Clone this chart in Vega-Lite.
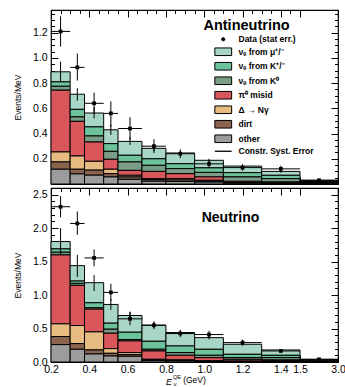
{
  "$schema": "https://vega.github.io/schema/vega-lite/v6.json",
  "padding": {"left": 12, "top": 8, "right": 8, "bottom": 0},
  "spacing": 0,
  "config": {
    "font": "Liberation Sans",
    "view": {"stroke": "black", "strokeWidth": 1.2},
    "axis": {"domain": false, "grid": false, "tickColor": "black", "labelColor": "black", "labelFontSize": 10.5, "titleFontSize": 8.5, "titleFontWeight": "normal", "titleColor": "black", "labelFlush": false, "labelOverlap": false, "tickCount": 100, "labelFont": "Liberation Sans", "titleFont": "Liberation Sans"}
  },
  "resolve": {"scale": {"color": "independent"}, "legend": {"color": "independent"}},
  "datasets": {
    "one": [{}],
    "comps": [
      {"c": "other", "o": 1}, {"c": "dirt", "o": 2}, {"c": "delta", "o": 3}, {"c": "pi0", "o": 4},
      {"c": "k0", "o": 5}, {"c": "kpm", "o": 6}, {"c": "mu", "o": 7}
    ],
    "anti": [
      {"lo":0.2,"hi":0.3,"xc":0.25,"mu":0.08,"kpm":0.035,"k0":0.031,"pi0":0.49,"delta":0.079,"dirt":0.058,"other":0.117,"d":1.21,"dlo":1.09,"dhi":1.33,"slo":0.81,"shi":0.97},
      {"lo":0.3,"hi":0.375,"xc":0.3375,"mu":0.12,"kpm":0.06,"k0":0.035,"pi0":0.275,"delta":0.105,"dirt":0.037,"other":0.08,"d":0.925,"dlo":0.82,"dhi":1.035,"slo":0.66,"shi":0.76},
      {"lo":0.375,"hi":0.475,"xc":0.425,"mu":0.11,"kpm":0.072,"k0":0.048,"pi0":0.153,"delta":0.07,"dirt":0.04,"other":0.07,"d":0.64,"dlo":0.555,"dhi":0.725,"slo":0.52,"shi":0.61},
      {"lo":0.475,"hi":0.55,"xc":0.5125,"mu":0.11,"kpm":0.061,"k0":0.063,"pi0":0.079,"delta":0.035,"dirt":0.026,"other":0.056,"d":0.56,"dlo":0.455,"dhi":0.655,"slo":0.39,"shi":0.47},
      {"lo":0.55,"hi":0.675,"xc":0.6125,"mu":0.11,"kpm":0.053,"k0":0.067,"pi0":0.039,"delta":0.013,"dirt":0.019,"other":0.037,"d":0.44,"dlo":0.35,"dhi":0.53,"slo":0.31,"shi":0.37},
      {"lo":0.675,"hi":0.8,"xc":0.7375,"mu":0.083,"kpm":0.052,"k0":0.048,"pi0":0.058,"delta":0.008,"dirt":0.012,"other":0.022,"d":0.30,"dlo":0.245,"dhi":0.355,"slo":0.26,"shi":0.31},
      {"lo":0.8,"hi":0.95,"xc":0.875,"mu":0.085,"kpm":0.039,"k0":0.04,"pi0":0.04,"delta":0.01,"dirt":0.012,"other":0.02,"d":0.24,"dlo":0.205,"dhi":0.275,"slo":0.23,"shi":0.26},
      {"lo":0.95,"hi":1.1,"xc":1.025,"mu":0.06,"kpm":0.036,"k0":0.036,"pi0":0.027,"delta":0.006,"dirt":0.008,"other":0.015,"d":0.16,"dlo":0.13,"dhi":0.19,"slo":0.175,"shi":0.2},
      {"lo":1.1,"hi":1.3,"xc":1.2,"mu":0.052,"kpm":0.034,"k0":0.035,"pi0":0.01,"delta":0.002,"dirt":0.003,"other":0.006,"d":0.13,"dlo":0.105,"dhi":0.155,"slo":0.13,"shi":0.155},
      {"lo":1.3,"hi":1.5,"xc":1.4,"mu":0.031,"kpm":0.027,"k0":0.026,"pi0":0.008,"delta":0.002,"dirt":0.002,"other":0.004,"d":0.12,"dlo":0.1,"dhi":0.145,"slo":0.09,"shi":0.11},
      {"lo":1.5,"hi":3.0,"xc":2.25,"mu":0.01,"kpm":0.006,"k0":0.006,"pi0":0.002,"delta":0.001,"dirt":0.001,"other":0.003,"d":0.03,"dlo":0.022,"dhi":0.038,"slo":0.025,"shi":0.033}
    ],
    "nu": [
      {"lo":0.2,"hi":0.3,"xc":0.25,"mu":0.11,"kpm":0.05,"k0":0.04,"pi0":1.03,"delta":0.19,"dirt":0.12,"other":0.26,"d":2.32,"dlo":2.16,"dhi":2.48,"slo":1.6,"shi":2.0},
      {"lo":0.3,"hi":0.375,"xc":0.3375,"mu":0.23,"kpm":0.035,"k0":0.03,"pi0":0.6,"delta":0.27,"dirt":0.085,"other":0.19,"d":2.07,"dlo":1.9,"dhi":2.25,"slo":1.27,"shi":1.6},
      {"lo":0.375,"hi":0.475,"xc":0.425,"mu":0.3,"kpm":0.075,"k0":0.02,"pi0":0.34,"delta":0.27,"dirt":0.06,"other":0.12,"d":1.555,"dlo":1.43,"dhi":1.68,"slo":1.06,"shi":1.3},
      {"lo":0.475,"hi":0.55,"xc":0.5125,"mu":0.28,"kpm":0.09,"k0":0.06,"pi0":0.23,"delta":0.07,"dirt":0.04,"other":0.09,"d":1.04,"dlo":0.91,"dhi":1.17,"slo":0.78,"shi":0.94},
      {"lo":0.55,"hi":0.675,"xc":0.6125,"mu":0.25,"kpm":0.11,"k0":0.02,"pi0":0.175,"delta":0.03,"dirt":0.025,"other":0.085,"d":0.645,"dlo":0.55,"dhi":0.75,"slo":0.64,"shi":0.75},
      {"lo":0.675,"hi":0.8,"xc":0.7375,"mu":0.24,"kpm":0.12,"k0":0.025,"pi0":0.125,"delta":0.01,"dirt":0.01,"other":0.02,"d":0.55,"dlo":0.49,"dhi":0.61,"slo":0.51,"shi":0.59},
      {"lo":0.8,"hi":0.95,"xc":0.875,"mu":0.2,"kpm":0.1,"k0":0.04,"pi0":0.07,"delta":0.007,"dirt":0.008,"other":0.015,"d":0.425,"dlo":0.37,"dhi":0.48,"slo":0.41,"shi":0.47},
      {"lo":0.95,"hi":1.1,"xc":1.025,"mu":0.174,"kpm":0.09,"k0":0.035,"pi0":0.05,"delta":0.003,"dirt":0.004,"other":0.008,"d":0.41,"dlo":0.355,"dhi":0.465,"slo":0.34,"shi":0.39},
      {"lo":1.1,"hi":1.3,"xc":1.2,"mu":0.15,"kpm":0.05,"k0":0.025,"pi0":0.028,"delta":0.002,"dirt":0.004,"other":0.006,"d":0.29,"dlo":0.245,"dhi":0.335,"slo":0.245,"shi":0.285},
      {"lo":1.3,"hi":1.5,"xc":1.4,"mu":0.08,"kpm":0.035,"k0":0.035,"pi0":0.015,"delta":0.003,"dirt":0.004,"other":0.008,"d":0.165,"dlo":0.145,"dhi":0.19,"slo":0.17,"shi":0.19},
      {"lo":1.5,"hi":3.0,"xc":2.25,"mu":0.015,"kpm":0.008,"k0":0.007,"pi0":0.004,"delta":0.001,"dirt":0.002,"other":0.003,"d":0.04,"dlo":0.03,"dhi":0.05,"slo":0.035,"shi":0.045}
    ]
  },
  "vconcat": [
    {
      "width": 287, "height": 174,
      "data": {"name": "anti"},
      "resolve": {"axis": {"x": "independent", "y": "independent"}},
      "layer": [
        {
          "layer": [
            {
              "transform": [
                {"fold": ["mu", "kpm", "k0", "pi0", "delta", "dirt", "other"], "as": ["c", "v"]},
                {"lookup": "c", "from": {"data": {"name": "comps"}, "key": "c", "fields": ["o"]}},
                {"stack": "v", "groupby": ["lo"], "sort": [{"field": "o", "order": "ascending"}], "as": ["y0", "y1"]}
              ],
              "mark": {"type": "rect", "stroke": "black", "strokeWidth": 1},
              "encoding": {
                "x": {"field": "lo", "type": "quantitative", "title": null,
                  "scale": {"domain": [0.2, 1.5, 3.0], "range": [0, 249, 287]},
                  "axis": {"labels": false, "ticks": false, "tickCount": 100, "values": [0.2,0.4,0.6,0.8,1.0,1.2,1.4,1.5]}},
                "x2": {"field": "hi"},
                "y": {"field": "y0", "type": "quantitative", "title": "Events/MeV",
                  "scale": {"domain": [0, 1.38], "nice": false},
                  "axis": {"values": [0.2,0.4,0.6,0.8,1.0,1.2], "tickCount": 100, "format": ".1f", "ticks": false, "labelPadding": 4, "titlePadding": 10, "labelOverlap": false}},
                "y2": {"field": "y1"},
                "color": {"field": "c", "type": "nominal",
                  "scale": {"domain": ["data","mu","kpm","k0","pi0","delta","dirt","other","syst"], "range": ["#000000","#a9d7c7","#6cc29a","#7a9d87","#d9575b","#e8bb80","#8b6450","#9c9c9c","#000000"]},
                  "legend": {"orient": "none", "legendX": 168, "legendY": 25, "title": null,
                    "symbolSize": 64, "symbolType": "M-2.1,-0.95H2.1V0.95H-2.1Z", "symbolStrokeColor": "black", "symbolStrokeWidth": 1, "symbolOpacity": 1,
                    "labelFont": "Liberation Sans", "labelFontWeight": "bold", "labelFontSize": 8.5, "labelColor": "black", "labelOffset": 11, "rowPadding": 1.5,
                    "labelExpr": "datum.value==='data' ? 'Data (stat err.)' : datum.value==='mu' ? 'νₑ from μ⁺/⁻' : datum.value==='kpm' ? 'νₑ from K⁺/⁻' : datum.value==='k0' ? 'νₑ from K⁰' : datum.value==='pi0' ? 'π⁰ misid' : datum.value==='delta' ? 'Δ → Nγ' : datum.value==='syst' ? 'Constr. Syst. Error' : datum.value",
                    "encode": {"symbols": {"update": {
                      "shape": {"signal": "datum.value==='data' ? 'circle' : datum.value==='syst' ? 'M-2.1,0H2.1' : 'M-2.1,-0.95H2.1V0.95H-2.1Z'"},
                      "size": {"signal": "datum.value==='data' ? 10 : 64"},
                      "strokeWidth": {"signal": "datum.value==='syst' ? 1.3 : 1"}
                    }}}}}
              }
            },
            {"mark": {"type": "rule", "color": "black", "strokeWidth": 1},
             "encoding": {"x": {"field": "xc", "type": "quantitative", "title": null}, "y": {"field": "slo", "type": "quantitative", "title": "Events/MeV"}, "y2": {"field": "shi"}}},
            {"mark": {"type": "rule", "color": "black", "strokeWidth": 1},
             "encoding": {"x": {"field": "lo", "type": "quantitative", "title": null}, "x2": {"field": "hi"}, "y": {"field": "d", "type": "quantitative", "title": "Events/MeV"}}},
            {"mark": {"type": "rule", "color": "black", "strokeWidth": 1},
             "encoding": {"x": {"field": "xc", "type": "quantitative", "title": null}, "y": {"field": "dlo", "type": "quantitative", "title": "Events/MeV"}, "y2": {"field": "dhi"}}},
            {"mark": {"type": "square", "filled": true, "color": "black", "size": 14, "opacity": 1},
             "encoding": {"x": {"field": "xc", "type": "quantitative", "title": null}, "y": {"field": "d", "type": "quantitative", "title": "Events/MeV"}}},
            {"data": {"name": "one"},
             "mark": {"type": "text", "text": "Antineutrino", "font": "Liberation Sans", "fontWeight": "bold", "fontSize": 14.5, "color": "black", "align": "center", "baseline": "middle"},
             "encoding": {"x": {"datum": 1.221, "type": "quantitative"}, "y": {"datum": 1.254, "type": "quantitative"}}}
          ]
        },
        {
          "data": {"name": "one"},
          "mark": {"type": "rule", "opacity": 0},
          "encoding": {
            "x": {"datum": 0.2, "type": "quantitative",
              "axis": {"orient": "bottom", "labels": false, "title": null, "tickCount": 100, "values": [0.2,0.25,0.3,0.35,0.4,0.45,0.5,0.55,0.6,0.65,0.7,0.75,0.8,0.85,0.9,0.95,1.0,1.05,1.1,1.15,1.2,1.25,1.3,1.35,1.4,1.45,1.5,3.0],
                "tickSize": {"condition": {"test": "round(datum.value*100)%20===0 || datum.value===1.5", "value": -7}, "value": -3.5}}},
            "y": {"datum": 0, "type": "quantitative",
              "axis": {"orient": "left", "labels": false, "title": null, "tickCount": 100, "values": [0,0.05,0.1,0.15,0.2,0.25,0.3,0.35,0.4,0.45,0.5,0.55,0.6,0.65,0.7,0.75,0.8,0.85,0.9,0.95,1.0,1.05,1.1,1.15,1.2,1.25,1.3,1.35],
                "tickSize": {"condition": {"test": "round(datum.value*100)%20===0", "value": -7}, "value": -3.5}}}
          }
        },
        {
          "data": {"name": "one"},
          "mark": {"type": "rule", "opacity": 0},
          "encoding": {
            "x": {"datum": 0.2, "type": "quantitative",
              "axis": {"orient": "top", "labels": false, "title": null, "tickCount": 100, "values": [0.2,0.25,0.3,0.35,0.4,0.45,0.5,0.55,0.6,0.65,0.7,0.75,0.8,0.85,0.9,0.95,1.0,1.05,1.1,1.15,1.2,1.25,1.3,1.35,1.4,1.45,1.5,3.0],
                "tickSize": {"condition": {"test": "round(datum.value*100)%20===0 || datum.value===1.5", "value": -7}, "value": -3.5}}},
            "y": {"datum": 0, "type": "quantitative",
              "axis": {"orient": "right", "labels": false, "title": null, "tickCount": 100, "values": [0,0.05,0.1,0.15,0.2,0.25,0.3,0.35,0.4,0.45,0.5,0.55,0.6,0.65,0.7,0.75,0.8,0.85,0.9,0.95,1.0,1.05,1.1,1.15,1.2,1.25,1.3,1.35],
                "tickSize": {"condition": {"test": "round(datum.value*100)%20===0", "value": -7}, "value": -3.5}}}
          }
        }
      ]
    },
    {
      "width": 287, "height": 174,
      "data": {"name": "nu"},
      "resolve": {"axis": {"x": "independent", "y": "independent"}},
      "layer": [
        {
          "layer": [
            {
              "transform": [
                {"fold": ["mu", "kpm", "k0", "pi0", "delta", "dirt", "other"], "as": ["c", "v"]},
                {"lookup": "c", "from": {"data": {"name": "comps"}, "key": "c", "fields": ["o"]}},
                {"stack": "v", "groupby": ["lo"], "sort": [{"field": "o", "order": "ascending"}], "as": ["y0", "y1"]}
              ],
              "mark": {"type": "rect", "stroke": "black", "strokeWidth": 1},
              "encoding": {
                "x": {"field": "lo", "type": "quantitative", "title": "(GeV)",
                  "scale": {"domain": [0.2, 1.5, 3.0], "range": [0, 249, 287]},
                  "axis": {"values": [0.2,0.4,0.6,0.8,1.0,1.2,1.4,1.5,3.0], "tickCount": 100, "format": ".1f", "ticks": false,
                    "labelPadding": 2, "titlePadding": 1, "titleX": 143, "titleAlign": "center", "labelOverlap": false}},
                "x2": {"field": "hi"},
                "y": {"field": "y0", "type": "quantitative", "title": "Events/MeV",
                  "scale": {"domain": [0, 2.6], "nice": false},
                  "axis": {"values": [0,0.5,1.0,1.5,2.0,2.5], "tickCount": 100, "format": ".1f", "ticks": false, "labelPadding": 4, "titlePadding": 10, "labelOverlap": false}},
                "y2": {"field": "y1"},
                "color": {"field": "c", "type": "nominal",
                  "scale": {"domain": ["data","mu","kpm","k0","pi0","delta","dirt","other","syst"], "range": ["#000000","#a9d7c7","#6cc29a","#7a9d87","#d9575b","#e8bb80","#8b6450","#9c9c9c","#000000"]},
                  "legend": null}
              }
            },
            {"mark": {"type": "rule", "color": "black", "strokeWidth": 1},
             "encoding": {"x": {"field": "xc", "type": "quantitative", "title": "(GeV)"}, "y": {"field": "slo", "type": "quantitative", "title": "Events/MeV"}, "y2": {"field": "shi"}}},
            {"mark": {"type": "rule", "color": "black", "strokeWidth": 1},
             "encoding": {"x": {"field": "lo", "type": "quantitative", "title": "(GeV)"}, "x2": {"field": "hi"}, "y": {"field": "d", "type": "quantitative", "title": "Events/MeV"}}},
            {"mark": {"type": "rule", "color": "black", "strokeWidth": 1},
             "encoding": {"x": {"field": "xc", "type": "quantitative", "title": "(GeV)"}, "y": {"field": "dlo", "type": "quantitative", "title": "Events/MeV"}, "y2": {"field": "dhi"}}},
            {"mark": {"type": "square", "filled": true, "color": "black", "size": 14, "opacity": 1},
             "encoding": {"x": {"field": "xc", "type": "quantitative", "title": "(GeV)"}, "y": {"field": "d", "type": "quantitative", "title": "Events/MeV"}}},
            {"data": {"name": "one"},
             "mark": {"type": "text", "text": "Neutrino", "font": "Liberation Sans", "fontWeight": "bold", "fontSize": 14, "color": "black", "align": "center", "baseline": "middle"},
             "encoding": {"x": {"datum": 1.137, "type": "quantitative"}, "y": {"datum": 2.154, "type": "quantitative"}}},
            {"data": {"name": "one"},
             "mark": {"type": "text", "text": "E", "font": "Liberation Sans", "fontSize": 9, "fontStyle": "italic", "color": "black", "align": "center", "baseline": "middle"},
             "encoding": {"x": {"datum": 0.816, "type": "quantitative"}, "y": {"datum": -0.3, "type": "quantitative"}}},
            {"data": {"name": "one"},
             "mark": {"type": "text", "text": "QE", "font": "Liberation Sans", "fontSize": 5.5, "color": "black", "align": "left", "baseline": "middle"},
             "encoding": {"x": {"datum": 0.837, "type": "quantitative"}, "y": {"datum": -0.22, "type": "quantitative"}}},
            {"data": {"name": "one"},
             "mark": {"type": "text", "text": "ν", "font": "Liberation Sans", "fontSize": 6, "fontStyle": "italic", "color": "black", "align": "left", "baseline": "middle"},
             "encoding": {"x": {"datum": 0.84, "type": "quantitative"}, "y": {"datum": -0.33, "type": "quantitative"}}}
          ]
        },
        {
          "data": {"name": "one"},
          "mark": {"type": "rule", "opacity": 0},
          "encoding": {
            "x": {"datum": 0.2, "type": "quantitative",
              "axis": {"orient": "bottom", "labels": false, "title": null, "tickCount": 100, "values": [0.2,0.25,0.3,0.35,0.4,0.45,0.5,0.55,0.6,0.65,0.7,0.75,0.8,0.85,0.9,0.95,1.0,1.05,1.1,1.15,1.2,1.25,1.3,1.35,1.4,1.45,1.5,3.0],
                "tickSize": {"condition": {"test": "round(datum.value*100)%20===0 || datum.value===1.5", "value": -7}, "value": -3.5}}},
            "y": {"datum": 0, "type": "quantitative",
              "axis": {"orient": "left", "labels": false, "title": null, "tickCount": 100, "values": [0,0.1,0.2,0.3,0.4,0.5,0.6,0.7,0.8,0.9,1.0,1.1,1.2,1.3,1.4,1.5,1.6,1.7,1.8,1.9,2.0,2.1,2.2,2.3,2.4,2.5,2.6],
                "tickSize": {"condition": {"test": "round(datum.value*10)%5===0", "value": -7}, "value": -3.5}}}
          }
        },
        {
          "data": {"name": "one"},
          "mark": {"type": "rule", "opacity": 0},
          "encoding": {
            "x": {"datum": 0.2, "type": "quantitative",
              "axis": {"orient": "top", "labels": false, "title": null, "tickCount": 100, "values": [0.2,0.25,0.3,0.35,0.4,0.45,0.5,0.55,0.6,0.65,0.7,0.75,0.8,0.85,0.9,0.95,1.0,1.05,1.1,1.15,1.2,1.25,1.3,1.35,1.4,1.45,1.5,3.0],
                "tickSize": {"condition": {"test": "round(datum.value*100)%20===0 || datum.value===1.5", "value": -7}, "value": -3.5}}},
            "y": {"datum": 0, "type": "quantitative",
              "axis": {"orient": "right", "labels": false, "title": null, "tickCount": 100, "values": [0,0.1,0.2,0.3,0.4,0.5,0.6,0.7,0.8,0.9,1.0,1.1,1.2,1.3,1.4,1.5,1.6,1.7,1.8,1.9,2.0,2.1,2.2,2.3,2.4,2.5,2.6],
                "tickSize": {"condition": {"test": "round(datum.value*10)%5===0", "value": -7}, "value": -3.5}}}
          }
        }
      ]
    }
  ]
}
